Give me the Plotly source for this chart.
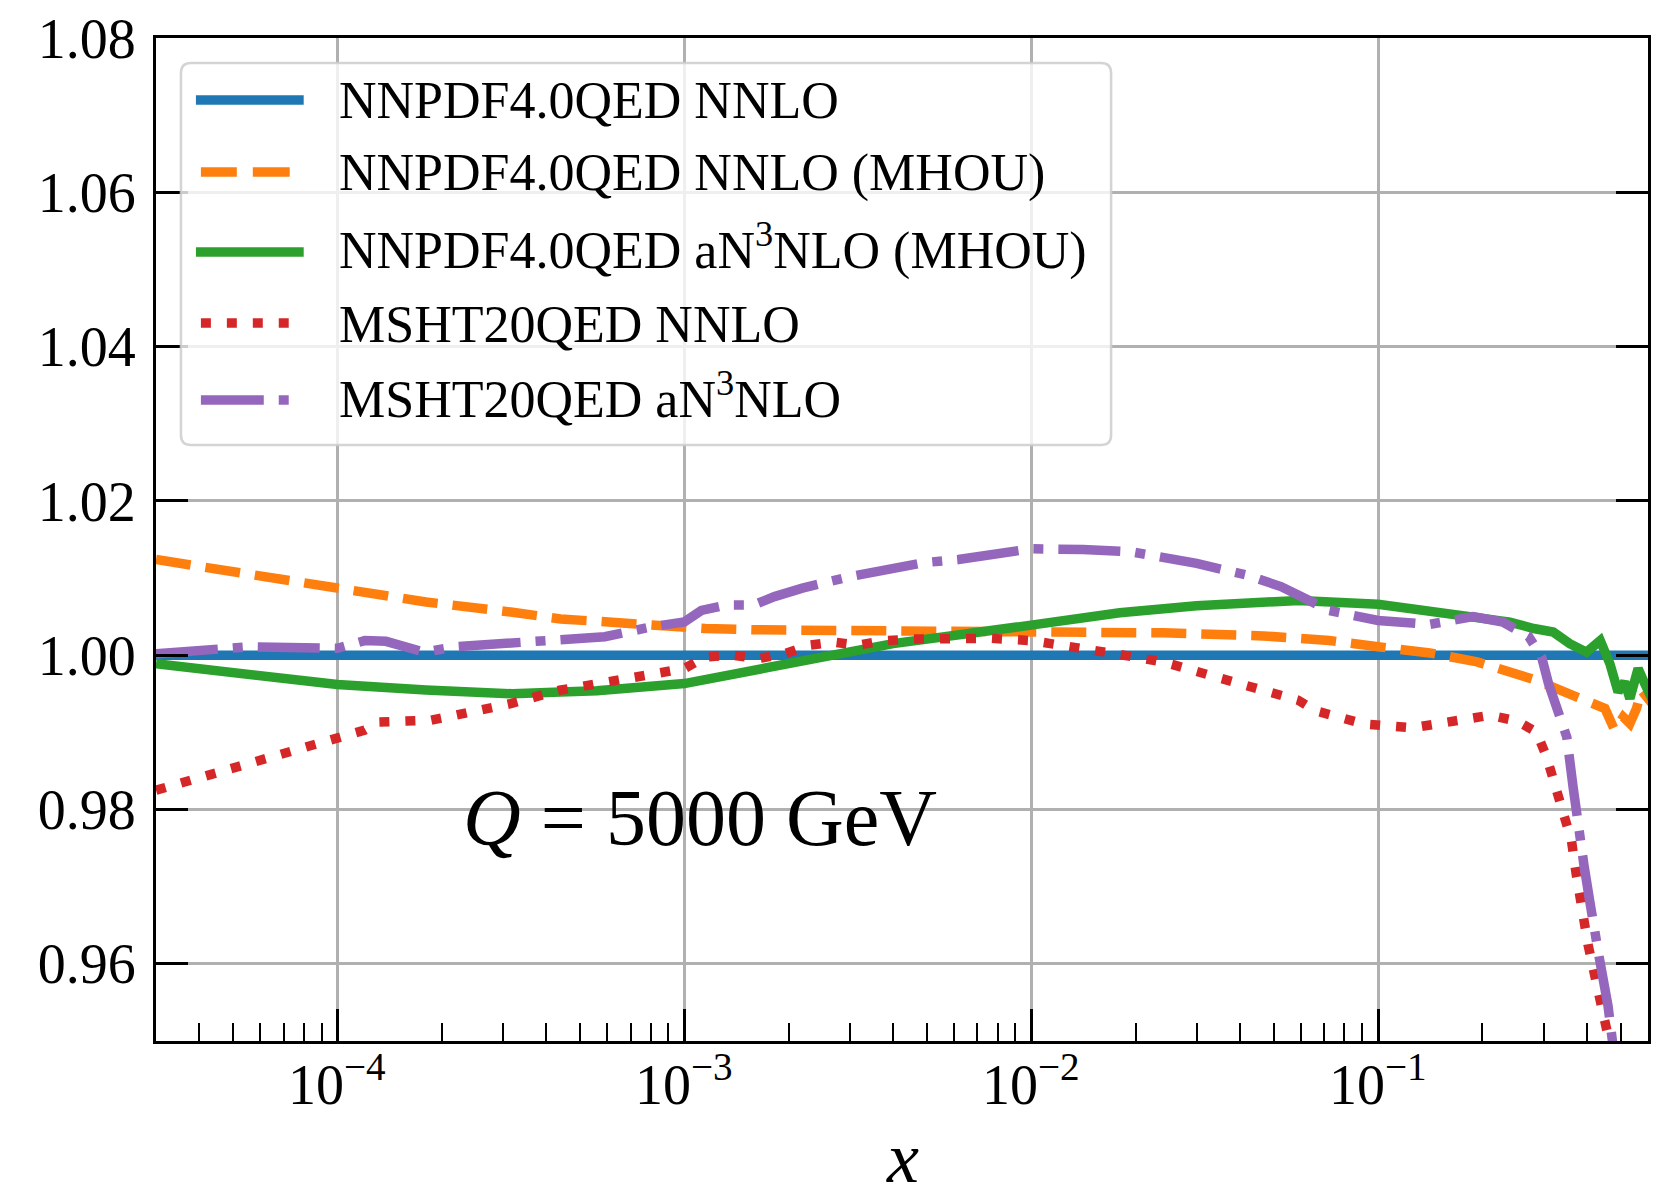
import plotly.graph_objects as go

# ---------------- data: ratio to NNPDF4.0QED NNLO at Q = 5000 GeV ----------------
x_nnpdf_nnlo = [3.0e-5, 0.6]
y_nnpdf_nnlo = [1.0, 1.0]

x_nnpdf_mhou = [3.0e-5, 5.6e-5, 1.0e-4, 1.8e-4, 3.16e-4, 4.4e-4, 5.6e-4, 7.6e-4, 1.15e-3,
                1.58e-3, 3.16e-3, 1.0e-2, 2.4e-2, 4.68e-2, 7.24e-2, 0.1, 0.141, 0.193,
                0.24, 0.286, 0.327, 0.391, 0.451, 0.481, 0.509, 0.532, 0.556, 0.574, 0.617]
y_nnpdf_mhou = [1.0124, 1.0104, 1.0085, 1.0069, 1.0056, 1.0047, 1.0044, 1.0039, 1.00346,
                1.0033, 1.0032, 1.0032, 1.0029, 1.0025, 1.0019, 1.0011, 1.0003, 0.99913,
                0.99784, 0.99676, 0.99568, 0.99438, 0.99309, 0.99027, 0.9920, 0.99114,
                0.99309, 0.99546, 0.99373]

x_nnpdf_n3lo = [3.0e-5, 5.6e-5, 1.0e-4, 1.8e-4, 3.2e-4, 4.4e-4, 5.6e-4, 1.0e-3, 2.0e-3,
                4.0e-3, 1.0e-2, 1.8e-2, 3.0e-2, 5.9e-2, 0.1, 0.176, 0.24, 0.281, 0.32,
                0.357, 0.399, 0.437, 0.466, 0.492, 0.514, 0.532, 0.562, 0.587, 0.617]
y_nnpdf_n3lo = [0.9989, 0.9975, 0.9962, 0.9955, 0.9950, 0.99524, 0.9954, 0.99633, 0.9989,
                1.0015, 1.0039, 1.0055, 1.0064, 1.0071, 1.0066, 1.0052, 1.0043, 1.00346,
                1.0030, 1.0015, 1.0004, 1.0019, 0.9989, 0.99524, 0.99654, 0.99438,
                0.99827, 0.99633, 0.9943]

x_msht_nnlo = [3.0e-5, 4.07e-5, 5.6e-5, 7.9e-5, 1.0e-4, 1.2e-4, 1.32e-4, 1.86e-4, 2.19e-4,
               3.16e-4, 4.37e-4, 5.9e-4, 8.5e-4, 1.0e-3, 1.15e-3, 1.38e-3, 1.64e-3, 1.95e-3,
               2.29e-3, 2.69e-3, 3.16e-3, 3.8e-3, 4.57e-3, 5.37e-3, 7.6e-3, 1.0e-2, 1.26e-2,
               1.74e-2, 2.4e-2, 3.8e-2, 4.68e-2, 5.89e-2, 6.6e-2, 9.1e-2, 0.126, 0.176,
               0.21, 0.251, 0.286, 0.306, 0.323, 0.342, 0.361, 0.373, 0.385, 0.403, 0.426,
               0.46, 0.48]
y_msht_nnlo = [0.9825, 0.9842, 0.98595, 0.9881, 0.9892, 0.9903, 0.99135, 0.99157, 0.99222,
               0.99373, 0.99546, 0.99654, 0.99762, 0.99827, 0.99978, 1.0000, 0.99957, 1.0002,
               1.0013, 1.0017, 1.0013, 1.0019, 1.0021, 1.0022, 1.0022, 1.0019, 1.0013,
               1.0002, 0.99913, 0.99654, 0.9953, 0.99416, 0.9928, 0.9911, 0.9906, 0.9918,
               0.99222, 0.99148, 0.99006, 0.98685, 0.98337, 0.98039, 0.9760, 0.9715, 0.9670,
               0.9625, 0.9575, 0.9510, 0.9470]

x_msht_n3lo = [3.0e-5, 5.6e-5, 1.0e-4, 1.2e-4, 1.38e-4, 1.78e-4, 2.19e-4, 3.16e-4, 4.37e-4,
               5.9e-4, 8.1e-4, 1.0e-3, 1.12e-3, 1.32e-3, 1.58e-3, 1.82e-3, 2.19e-3, 2.63e-3,
               3.02e-3, 3.55e-3, 4.27e-3, 4.9e-3, 6.17e-3, 1.0e-2, 1.41e-2, 1.95e-2, 3.0e-2,
               4.17e-2, 5.25e-2, 7.24e-2, 0.1, 0.141, 0.188, 0.229, 0.272, 0.296, 0.31,
               0.327, 0.35, 0.365, 0.378, 0.392, 0.408, 0.42, 0.435, 0.46, 0.48]
y_msht_n3lo = [1.0002, 1.0011, 1.0009, 1.0019, 1.0018, 1.0004, 1.0011, 1.0015, 1.0019,
               1.0024, 1.0037, 1.0043, 1.0058, 1.0065, 1.0065, 1.0076, 1.0087, 1.0097,
               1.0102, 1.0108, 1.0115, 1.0120, 1.0124, 1.0138, 1.0137, 1.0134, 1.0119,
               1.0104, 1.0089, 1.0058, 1.0045, 1.0040, 1.0050, 1.0043, 1.0024, 0.9998,
               0.99633, 0.9933, 0.9894, 0.9829, 0.9774, 0.9729, 0.9680, 0.9640, 0.9606,
               0.9546, 0.9480]

series_labels = ["NNPDF4.0QED NNLO",
                 "NNPDF4.0QED NNLO (MHOU)",
                 "NNPDF4.0QED aN<sup>3</sup>NLO (MHOU)",
                 "MSHT20QED NNLO",
                 "MSHT20QED aN<sup>3</sup>NLO"]

y_tick_vals = [0.96, 0.98, 1.00, 1.02, 1.04, 1.06, 1.08]
y_tick_text = ["0.96", "0.98", "1.00", "1.02", "1.04", "1.06", "1.08"]
x_tick_exps = [-4, -3, -2, -1]
x_tick_text = ["10<sup>\u22124</sup>", "10<sup>\u22123</sup>",
               "10<sup>\u22122</sup>", "10<sup>\u22121</sup>"]

# ---------------- styling ----------------
W, H = 1654, 1197
L, R, T, B = 156, 1651, 38, 1041          # plot-area edges in pixels
FONT = "Liberation Serif"
LW = 9.5
colors = ["#1f77b4", "#ff7f0e", "#2ca02c", "#d62728", "#9467bd"]
dashes = ["solid", "35px,15px", "10px,16px", "62px,15px,10px,15px"]
styles = [dashes[0], dashes[1], dashes[0], dashes[2], dashes[3]]


def px(xp):
    return (xp - L) / (R - L)


def py(yp):
    return (B - yp) / (B - T)


fig = go.Figure()
data = [(x_nnpdf_nnlo, y_nnpdf_nnlo), (x_nnpdf_mhou, y_nnpdf_mhou),
        (x_nnpdf_n3lo, y_nnpdf_n3lo), (x_msht_nnlo, y_msht_nnlo),
        (x_msht_n3lo, y_msht_n3lo)]
for (xs, ys), c, d, name in zip(data, colors, styles, series_labels):
    fig.add_trace(go.Scatter(x=xs, y=ys, mode="lines", name=name,
                             line=dict(color=c, width=LW, dash=d),
                             showlegend=False, hoverinfo="skip"))

# ---------------- legend box drawn by hand ----------------
shapes = []
bx0, bx1, by0, by1, rad = 181, 1113, 63, 445, 10
x0, x1, y0, y1 = px(bx0), px(bx1), py(by1), py(by0)
rx, ry = rad / (R - L), rad / (B - T)
path = (f"M {x0+rx},{y0} L {x1-rx},{y0} Q {x1},{y0} {x1},{y0+ry} "
        f"L {x1},{y1-ry} Q {x1},{y1} {x1-rx},{y1} L {x0+rx},{y1} "
        f"Q {x0},{y1} {x0},{y1-ry} L {x0},{y0+ry} Q {x0},{y0} {x0+rx},{y0} Z")
shapes.append(dict(type="path", path=path, xref="paper", yref="paper",
                   fillcolor="rgba(255,255,255,0.8)",
                   line=dict(color="rgba(204,204,204,0.85)", width=2.5),
                   layer="above"))

# legend handles: pixel segments that make up each line sample
handle_segments = [
    [(196, 304)],
    [(201, 237), (253, 290)],
    [(196, 304)],
    [(201, 211), (227, 237), (253, 263), (279, 289)],
    [(201, 264), (279, 289)],
]
row_y = [100, 172, 252, 323, 400]
text_dy = [1, 1, -5, 1, -5]
annotations = []
for ry_, dy, c, segs, name in zip(row_y, text_dy, colors, handle_segments,
                                  series_labels):
    for sx0, sx1 in segs:
        shapes.append(dict(type="line", xref="paper", yref="paper",
                           x0=px(sx0), x1=px(sx1), y0=py(ry_), y1=py(ry_),
                           line=dict(color=c, width=LW), layer="above"))
    annotations.append(dict(x=px(337), y=py(ry_ + dy), xref="paper", yref="paper",
                            text=name, showarrow=False, xanchor="left",
                            yanchor="middle",
                            font=dict(family=FONT, size=52, color="black")))

# x tick labels placed under each decade
for e, txt in zip(x_tick_exps, x_tick_text):
    annotations.append(dict(x=e, y=py(1080), xref="x", yref="paper",
                            text=txt, showarrow=False, xanchor="center",
                            yanchor="middle",
                            font=dict(family=FONT, size=56, color="black")))

annotations.append(dict(x=px(701), y=py(818), xref="paper", yref="paper",
                        text="<i>Q</i> = 5000 GeV", showarrow=False,
                        xanchor="center", yanchor="middle",
                        font=dict(family=FONT, size=80, color="black")))
annotations.append(dict(x=px(904), y=0, xref="paper", yref="paper",
                        yshift=-(H - B) - 3,
                        text="<i>x</i>", showarrow=False,
                        xanchor="center", yanchor="bottom",
                        font=dict(family=FONT, size=72, color="black")))

minor_vals = [k * 10.0 ** e for e in range(-5, 0) for k in range(2, 10)]

fig.update_layout(
    width=W, height=H,
    margin=dict(l=L, r=W - R, t=T, b=H - B, pad=0),
    paper_bgcolor="white", plot_bgcolor="white",
    shapes=shapes, annotations=annotations, showlegend=False,
    font=dict(family=FONT, color="black"),
    xaxis=dict(type="log", range=[-4.5229, -0.2218],
               tickmode="array", tickvals=[10.0 ** e for e in x_tick_exps],
               showticklabels=False,
               ticks="inside", ticklen=32, tickwidth=3, tickcolor="black",
               showline=True, linecolor="black", linewidth=3, mirror=True,
               showgrid=True, gridcolor="#b0b0b0", gridwidth=2.5,
               zeroline=False,
               minor=dict(tickmode="array", tickvals=minor_vals, ticks="inside",
                          ticklen=18, tickwidth=2, tickcolor="black",
                          showgrid=False)),
    yaxis=dict(range=[0.95, 1.08],
               tickmode="array", tickvals=y_tick_vals, ticktext=y_tick_text,
               tickfont=dict(family=FONT, size=56, color="black"),
               ticks="inside", ticklen=32, tickwidth=3, tickcolor="black",
               ticklabelstandoff=6,
               showline=True, linecolor="black", linewidth=3, mirror="ticks",
               showgrid=True, gridcolor="#b0b0b0", gridwidth=2.5,
               zeroline=False),
)

fig.write_html("out.html")
